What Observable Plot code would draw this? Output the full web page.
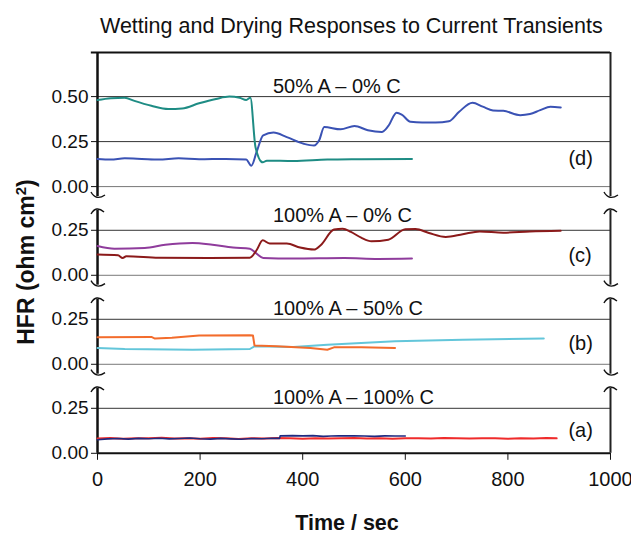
<!DOCTYPE html>
<html>
<head>
<meta charset="utf-8">
<script src="https://cdn.jsdelivr.net/npm/d3@7"></script>
<script src="https://cdn.jsdelivr.net/npm/@observablehq/plot@0.6"></script>
<style>
  body { margin: 0; background: #fff; }
  #chart { position: relative; width: 631px; height: 535px; overflow: hidden; background: #fff;
           font-family: "Liberation Sans", Arial, Helvetica, sans-serif; color: #111; }
  #chart svg.panel { position: absolute; left: 0; overflow: visible; }
  #overlay { position: absolute; left: 0; top: 0; pointer-events: none; }
</style>
</head>
<body>
<div id="chart"></div>
<script>
// ---------------- data ----------------
const title = "Wetting and Drying Responses to Current Transients";
const xLabel = "Time / sec";
const xTicks = [0, 200, 400, 600, 800, 1000];

// (d) 50% A – 0% C
const tD_teal = [0,26,53,72,105,138,165,198,231,257,277,290,298,308,322,330,382,448,514,613];
const vD_teal = [0.481,0.491,0.494,0.476,0.449,0.431,0.434,0.463,0.487,0.5,0.494,0.481,0.494,0.219,0.135,0.144,0.142,0.15,0.152,0.154];
const tD_blue = [0,26,53,86,119,158,198,250,290,300,310,323,343,369,402,422,432,442,474,501,527,554,567,583,593,610,633,659,685,705,731,751,771,791,824,843,863,883,903];
const vD_blue = [0.154,0.15,0.157,0.154,0.15,0.157,0.152,0.154,0.15,0.116,0.191,0.285,0.30,0.275,0.238,0.228,0.257,0.331,0.318,0.337,0.313,0.303,0.337,0.41,0.40,0.36,0.356,0.356,0.363,0.416,0.466,0.444,0.423,0.421,0.397,0.403,0.425,0.444,0.44];

// (c) 100% A – 0% C
const tC_purple = [0,33,92,132,185,224,264,297,310,323,382,481,547,613];
const vC_purple = [0.163,0.148,0.152,0.17,0.18,0.17,0.154,0.148,0.12,0.096,0.093,0.096,0.091,0.093];
const tC_red = [0,40,49,56,119,217,297,310,322,336,369,395,422,435,461,478,494,514,534,567,600,620,646,679,712,745,791,843,903];
const vC_red = [0.115,0.111,0.096,0.106,0.098,0.096,0.098,0.139,0.194,0.176,0.176,0.154,0.143,0.167,0.254,0.259,0.241,0.209,0.189,0.198,0.256,0.257,0.235,0.213,0.228,0.244,0.237,0.244,0.248];

// (b) 100% A – 50% C
const tB_orange = [0,105,112,145,198,297,303,306,349,415,448,461,514,580];
const vB_orange = [0.15,0.152,0.143,0.147,0.16,0.162,0.16,0.105,0.1,0.09,0.081,0.094,0.094,0.09];
const tB_cyan = [0,53,185,297,306,382,448,580,712,870];
const vB_cyan = [0.09,0.085,0.081,0.085,0.1,0.096,0.109,0.128,0.137,0.143];

// (a) 100% A – 100% C
const tA_navy = [0,20,40,60,80,100,120,140,160,180,200,220,240,260,280,300,320,340,355,356,380,400,420,440,455,470,500,520,540,560,580,600];
const vA_navy = [0.075,0.08,0.082,0.079,0.083,0.081,0.084,0.08,0.082,0.085,0.081,0.079,0.083,0.08,0.078,0.082,0.081,0.084,0.083,
                 0.097,0.098,0.097,0.098,0.094,0.096,0.097,0.097,0.096,0.094,0.097,0.096,0.096];
const tA_red = [0,25,50,75,100,125,150,175,200,225,250,275,300,325,350,375,400,425,450,475,500,525,550,575,600,625,650,675,700,725,750,775,800,825,850,875,895];
const vA_red = [0.082,0.085,0.081,0.084,0.083,0.086,0.082,0.084,0.081,0.085,0.083,0.080,0.084,0.082,0.085,0.083,0.081,0.084,0.082,0.083,0.085,0.082,0.084,0.081,0.083,0.084,0.082,0.085,0.083,0.082,0.084,0.083,0.081,0.084,0.082,0.085,0.083];

const panelLabels = ["50% A – 0% C", "100% A – 0% C", "100% A – 50% C", "100% A – 100% C"];
const panelTags = ["(d)", "(c)", "(b)", "(a)"];

// ---------------- build ----------------
const zip = (t, v) => t.map((d, i) => ({t: d, v: v[i]}));
const FONT = '"Liberation Sans", Arial, Helvetica, sans-serif';
const PX = 180; // pixels per HFR unit
const chart = document.getElementById("chart");

const panels = [
  {key: "d", zero: 186, ymax: 0.745, ybot: -0.055, grid: [0, 0.25, 0.5], labelY: 0.555, tagY: 0.158,
   series: [[zip(tD_blue, vD_blue), "#3a52b4", 2], [zip(tD_teal, vD_teal), "#1e8c84", 2]], curve: "monotone-x"},
  {key: "c", zero: 274.5, ymax: 0.36, ybot: -0.055, grid: [0, 0.25], labelY: 0.33, tagY: 0.107,
   series: [[zip(tC_purple, vC_purple), "#8f3c9c", 2], [zip(tC_red, vC_red), "#8b1a1a", 2]], curve: "monotone-x"},
  {key: "b", zero: 363.5, ymax: 0.36, ybot: -0.055, grid: [0, 0.25], labelY: 0.31, tagY: 0.113,
   series: [[zip(tB_cyan, vB_cyan), "#63c6da", 2], [zip(tB_orange, vB_orange), "#f36c2c", 2]], curve: "linear"},
  {key: "a", zero: 452.5, ymax: 0.36, ybot: 0, grid: [0, 0.25], labelY: 0.31, tagY: 0.125,
   series: [[zip(tA_red, vA_red), "#ef2b2b", 2], [zip(tA_navy, vA_navy), "#1f2a80", 1.6]], curve: "linear"}
];

panels.forEach((p, i) => {
  const mt = 10, mb = p.key === "a" ? 45 : 10;
  const h = (p.ymax - p.ybot) * PX + mt + mb;
  const top = p.zero - p.ymax * PX - mt;
  const marks = [
    Plot.ruleY(p.grid.filter(v => v !== 0), {x1: 0, x2: 1000, stroke: "#333", strokeWidth: 1}),
    Plot.ruleY([0], {x1: 0, x2: 1000, stroke: p.key === "a" ? "#111" : "#777", strokeWidth: p.key === "a" ? 2 : 1})
  ];
  if (p.key === "d") marks.push(Plot.ruleY([p.ymax], {x1: -12, x2: 1000, stroke: "#111", strokeWidth: 2}));
  marks.push(
    Plot.ruleX([0], {y1: p.ybot, y2: p.ymax, stroke: "#111", strokeWidth: 2.5}),
    Plot.ruleX([1000], {y1: p.ybot, y2: p.ymax, stroke: "#222", strokeWidth: 2}),
    Plot.axisY({ticks: p.grid, tickFormat: d3.format(".2f"), tickSize: 6, tickPadding: 3, label: null, anchor: "left"})
  );
  if (p.key === "a") {
    marks.push(Plot.axisX({ticks: xTicks, tickFormat: d => String(d), tickSize: 7, tickPadding: 11,
                           label: null, anchor: "bottom", fontSize: 20}));
  }
  p.series.forEach(([data, color, sw]) => {
    marks.push(Plot.line(data, {x: "t", y: "v", stroke: color, strokeWidth: sw, curve: p.curve}));
  });
  marks.push(
    Plot.text([panelLabels[i]], {x: 342, y: p.labelY, text: d => d, textAnchor: "start", fontSize: 20, fill: "#111"}),
    Plot.text([panelTags[i]], {x: 918, y: p.tagY, text: d => d, textAnchor: "start", fontSize: 20, fill: "#111"})
  );
  const svg = Plot.plot({
    width: 631, height: h,
    marginLeft: 97, marginRight: 21, marginTop: mt, marginBottom: mb,
    x: {domain: [0, 1000], axis: null},
    y: {domain: [p.ybot, p.ymax], axis: null},
    style: {background: "transparent", fontFamily: FONT, fontSize: "19px", color: "#111", overflow: "visible"},
    marks
  });
  svg.classList.add("panel");
  svg.style.top = top + "px";
  chart.appendChild(svg);

  // broken-axis brackets
  const xs = svg.scale("x"), ys = svg.scale("y");
  const g = d3.select(svg).append("g").attr("fill", "none").attr("stroke", "#111").attr("stroke-width", 1.4);
  [xs.apply(0), xs.apply(1000)].forEach(cx => {
    if (p.key !== "a") {
      const cy = ys.apply(p.ybot);
      g.append("path").attr("d", `M${cx - 6},${cy - 4} Q${cx - 1},${cy + 5} ${cx + 8},${cy - 1}`);
    }
    if (p.key !== "d") {
      const cy = ys.apply(p.ymax);
      g.append("path").attr("d", `M${cx - 6},${cy + 4} Q${cx - 1},${cy - 5} ${cx + 7},${cy + 2}`);
    }
  });
});

// overlay: title and axis labels
const ov = d3.select(chart).append("svg").attr("id", "overlay").attr("width", 631).attr("height", 535)
  .style("font-family", FONT).attr("fill", "#111");
ov.append("text").attr("x", 100).attr("y", 33).attr("font-size", 21.5).text(title);
ov.append("text").attr("x", 347).attr("y", 530).attr("text-anchor", "middle")
  .attr("font-size", 21.5).attr("font-weight", "bold").text(xLabel);
const yl = ov.append("text").attr("transform", "translate(34,262) rotate(-90)").attr("text-anchor", "middle")
  .attr("font-size", 23).attr("font-weight", "bold");
yl.append("tspan").text("HFR (ohm cm");
yl.append("tspan").attr("dy", -8).attr("font-size", 15).text("2");
yl.append("tspan").attr("dy", 8).text(")");
</script>
</body>
</html>
